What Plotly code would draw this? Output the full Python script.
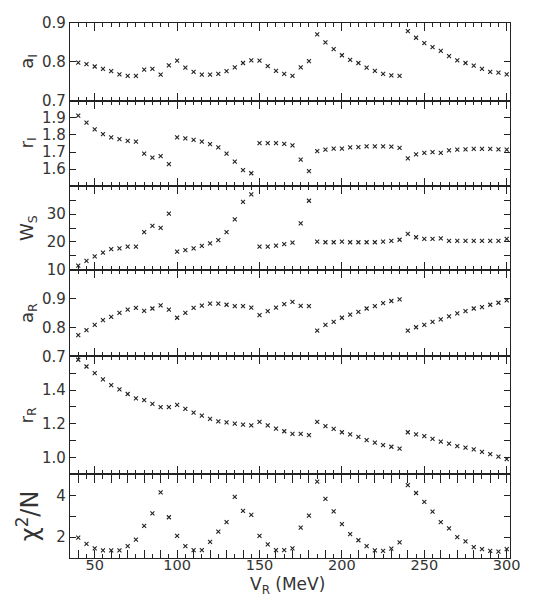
import plotly.graph_objects as go

# ---------------- data ----------------
V_R = list(range(40, 305, 5))

a_I = [0.798, 0.794, 0.788, 0.782, 0.776, 0.768, 0.764, 0.764, 0.780, 0.782,
       0.767, 0.791, 0.803, 0.785, 0.774, 0.767, 0.767, 0.769, 0.776, 0.786,
       0.797, 0.804, 0.803, 0.789, 0.777, 0.769, 0.764, 0.786, 0.802, 0.871,
       0.850, 0.833, 0.817, 0.805, 0.797, 0.785, 0.777, 0.769, 0.765, 0.764,
       0.879, 0.862, 0.848, 0.838, 0.828, 0.815, 0.804, 0.797, 0.790, 0.782,
       0.774, 0.772, 0.768]

r_I = [1.913, 1.872, 1.832, 1.805, 1.786, 1.775, 1.765, 1.761, 1.691, 1.667,
       1.676, 1.629, 1.786, 1.780, 1.771, 1.761, 1.746, 1.727, 1.691, 1.644,
       1.594, 1.576, 1.752, 1.752, 1.752, 1.748, 1.739, 1.655, 1.589, 1.705,
       1.714, 1.720, 1.720, 1.727, 1.729, 1.733, 1.733, 1.733, 1.731, 1.724,
       1.663, 1.686, 1.695, 1.699, 1.695, 1.710, 1.714, 1.716, 1.718, 1.718,
       1.718, 1.716, 1.714]

W_S = [11.5, 13.2, 14.8, 16.2, 17.4, 17.7, 18.3, 18.3, 23.5, 25.8,
       25.1, 30.2, 16.5, 17.1, 17.7, 18.6, 19.5, 20.7, 23.5, 28.1,
       34.4, 37.1, 18.3, 18.3, 18.7, 19.2, 19.8, 26.7, 34.8, 20.1,
       19.9, 19.9, 20.1, 19.9, 19.9, 19.9, 19.9, 20.1, 20.4, 20.8,
       22.9, 21.7, 21.1, 21.1, 21.3, 20.4, 20.4, 20.4, 20.4, 20.4,
       20.4, 20.4, 21.1]

a_R = [0.774, 0.791, 0.809, 0.826, 0.837, 0.851, 0.862, 0.868, 0.858, 0.866,
       0.877, 0.862, 0.834, 0.851, 0.868, 0.876, 0.883, 0.883, 0.879, 0.874,
       0.874, 0.869, 0.843, 0.857, 0.869, 0.881, 0.889, 0.875, 0.874, 0.789,
       0.809, 0.820, 0.834, 0.845, 0.854, 0.866, 0.874, 0.885, 0.892, 0.898,
       0.789, 0.801, 0.809, 0.820, 0.828, 0.839, 0.849, 0.857, 0.866, 0.871,
       0.879, 0.886, 0.894]

r_R = [1.580, 1.540, 1.501, 1.464, 1.429, 1.404, 1.377, 1.351, 1.341, 1.318,
       1.299, 1.299, 1.312, 1.289, 1.267, 1.248, 1.230, 1.215, 1.209, 1.201,
       1.195, 1.191, 1.211, 1.191, 1.172, 1.156, 1.140, 1.140, 1.133, 1.211,
       1.186, 1.170, 1.150, 1.137, 1.123, 1.103, 1.088, 1.074, 1.064, 1.053,
       1.150, 1.137, 1.127, 1.111, 1.094, 1.082, 1.068, 1.059, 1.049, 1.033,
       1.020, 1.006, 0.990]

chi2_N = [1.98, 1.68, 1.46, 1.37, 1.37, 1.37, 1.57, 1.88, 2.54, 3.14,
          4.14, 2.95, 2.06, 1.57, 1.38, 1.38, 1.77, 2.26, 2.72, 3.92,
          3.26, 3.06, 2.06, 1.65, 1.38, 1.38, 1.46, 2.45, 3.03, 4.65,
          3.83, 3.23, 2.62, 2.14, 1.85, 1.57, 1.37, 1.34, 1.45, 1.75,
          4.49, 4.11, 3.69, 3.22, 2.72, 2.42, 2.00, 1.80, 1.52, 1.42,
          1.34, 1.31, 1.42]

# tick labels
x_tickvals = list(range(40, 310, 10))
x_ticktext = [str(v) if v % 50 == 0 else "" for v in x_tickvals]

aI_ticks = [0.7, 0.8, 0.9]
aI_labels = ["0.7", "0.8", "0.9"]
rI_ticks = [1.5, 1.6, 1.7, 1.8, 1.9, 2.0]
rI_labels = ["", "1.6", "1.7", "1.8", "1.9", ""]
WS_ticks = [10, 15, 20, 25, 30, 35, 40]
WS_labels = ["10", "", "20", "", "30", "", ""]
aR_ticks = [0.7, 0.8, 0.9, 1.0]
aR_labels = ["0.7", "0.8", "0.9", ""]
rR_ticks = [0.9, 1.0, 1.1, 1.2, 1.3, 1.4, 1.5, 1.6]
rR_labels = ["", "1.0", "", "1.2", "", "1.4", "", ""]
chi_ticks = [1, 2, 3, 4, 5]
chi_labels = ["", "2", "", "4", ""]

# ---------------- layout ----------------
W, H = 553, 597
OFF = 8                      # page offset of the plot div inside the window
top_px, bot_px = 14, 558     # window pixels of plot top / bottom
left_px, right_px = 70, 510
edges = [14, 93, 180, 265, 353, 473, 558]   # window pixel borders of the panels
def frac(py):
    return (bot_px - py) / (bot_px - top_px)

panels = [
    (a_I, [0.7, 0.9], aI_ticks, aI_labels, "a<sub>I</sub>", 18),
    (r_I, [1.5, 2.0], rI_ticks, rI_labels, "r<sub>I</sub>", 18),
    (W_S, [10, 40], WS_ticks, WS_labels, "W<sub>S</sub>", 18),
    (a_R, [0.7, 1.0], aR_ticks, aR_labels, "a<sub>R</sub>", 18),
    (r_R, [0.9, 1.6], rR_ticks, rR_labels, "r<sub>R</sub>", 18),
    (chi2_N, [1, 5], chi_ticks, chi_labels, "χ<sup>2</sup>/N", 24),
]

INK = "#222"
TXT = "#333"
FONT = "DejaVu Sans"

fig = go.Figure()
layout = dict(
    width=W, height=H,
    margin=dict(l=left_px - OFF, r=W - (right_px - OFF), t=top_px - OFF,
                b=H - (bot_px - OFF)),
    paper_bgcolor="white", plot_bgcolor="white",
    showlegend=False,
    font=dict(family=FONT, color=TXT, size=15),
    annotations=[],
)

n = len(panels)
for i, (vals, rng, tv, tt, title, tsize) in enumerate(panels):
    k = "" if i == 0 else str(i + 1)
    fig.add_trace(go.Scatter(
        x=V_R, y=vals, mode="markers",
        xaxis="x" + k, yaxis="y" + k,
        marker=dict(symbol="x-thin", size=4, line=dict(width=1.1, color=INK)),
    ))
    dom = [frac(edges[i + 1]), frac(edges[i])]
    last = (i == n - 1)
    layout["xaxis" + k] = dict(
        domain=[0, 1], anchor="y" + k, range=[35, 302],
        showline=True, linecolor=INK, linewidth=1.2, mirror="ticks",
        ticks="inside", ticklen=8, tickwidth=1, tickcolor=INK,
        tickvals=x_tickvals, ticktext=x_ticktext,
        showticklabels=last, tickfont=dict(size=14.5, color=TXT),
        ticklabelstandoff=-7, ticklabeloverflow="allow",
        minor=dict(ticks="inside", ticklen=4, tickwidth=1, tickcolor=INK,
                   dtick=5, tick0=0, showgrid=False),
        showgrid=False, zeroline=False,
        **({} if i == 0 else {"matches": "x"}),
    )
    layout["yaxis" + k] = dict(
        domain=dom, anchor="x" + k, range=rng,
        showline=True, linecolor=INK, linewidth=1.2, mirror="ticks",
        ticks="inside", ticklen=6, tickwidth=1, tickcolor=INK,
        tickvals=tv, ticktext=tt, tickfont=dict(size=15, color=TXT),
        ticklabeloverflow="allow",
        showgrid=False, zeroline=False,
    )
    layout["annotations"].append(dict(
        text=title, textangle=-90, showarrow=False,
        xref="paper", yref="paper", x=0, xanchor="center", xshift=-42,
        y=(dom[0] + dom[1]) / 2, yanchor="middle",
        font=dict(size=tsize, family=FONT, color=TXT),
    ))

layout["annotations"].append(dict(
    text="V<sub>R</sub> (MeV)", showarrow=False,
    xref="paper", yref="paper", x=(287 - left_px) / (right_px - left_px),
    y=frac(586), xanchor="center", yanchor="middle",
    font=dict(size=17, family=FONT, color=TXT),
))

fig.update_layout(**layout)
fig.write_html("out.html")
